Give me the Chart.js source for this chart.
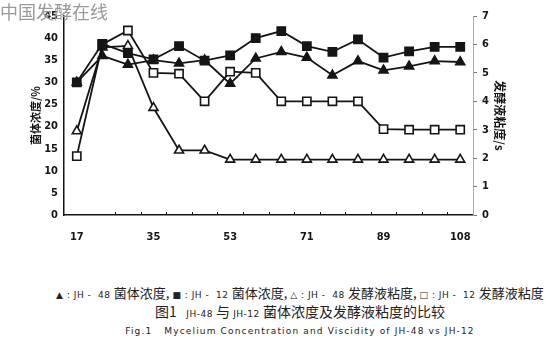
<!DOCTYPE html>
<html>
<head>
<meta charset="utf-8">
<script src="https://cdn.jsdelivr.net/npm/chart.js@4/dist/chart.umd.min.js"></script>
<style>
  html, body { margin: 0; padding: 0; background: #fff; }
  body { width: 554px; height: 349px; position: relative; overflow: hidden; }
  #plot { position: absolute; left: 0; top: 0; }
  .mark { position: absolute; left: 0; top: -2px; font: 18px "Noto Sans CJK SC", sans-serif; color: #9a9a9a; }
  .cap { position: absolute; left: 0; width: 600px; text-align: center; color: #222; white-space: nowrap; font-family: "Noto Sans CJK SC", sans-serif; }
  .s { font-family: "DejaVu Sans", sans-serif; font-size: 9px; letter-spacing: 0.5px; }
  #cap1 { top: 283px; font-size: 13px; }
  #cap2 { top: 301px; font-size: 14px; }
  #cap3 { top: 326px; font: 9px "DejaVu Sans", sans-serif; letter-spacing: 1.15px; }
</style>
</head>
<body>
<canvas id="plot" width="554" height="260"></canvas>
<div class="mark">中国发酵在线</div>
<div class="cap" id="cap1"><span class="s">▲ : JH - &nbsp;48 </span>菌体浓度, <span class="s">■ : JH - &nbsp;12 </span>菌体浓度, <span class="s">△ : JH - &nbsp;48 </span>发酵液粘度, <span class="s">□ : JH - &nbsp;12 </span>发酵液粘度</div>
<div class="cap" id="cap2">图1 &nbsp; <span class="s">JH-48</span> 与 <span class="s">JH-12</span> 菌体浓度及发酵液粘度的比较</div>
<div class="cap" id="cap3">Fig.1 &nbsp; Mycelium Concentration and Viscidity of JH-48 vs JH-12</div>

<script>
// sampling times (h) and the ones that get a label on the x axis
const sampleHours = ['17', '23', '29', '35', '41', '47', '53', '59', '65', '71', '77', '83', '89', '95', '101', '108'];
const xTickLabels = ['17', '35', '53', '71', '89', '108'];

// mycelium concentration, % (left axis)
const jh48Conc = [30, 36, 34, 35, 34.3, 35, 29.7, 35.4, 36.9, 35.6, 31.6, 34.8, 32.7, 33.6, 34.8, 34.6];
const jh12Conc = [30, 38.7, 36.6, 35.2, 38.2, 34.9, 36.1, 40, 41.6, 38.2, 36.9, 39.7, 35.6, 37, 38, 38];

// broth viscosity, s (right axis)
const jh48Visc = [2.95, 5.9, 5.95, 3.77, 2.27, 2.27, 1.95, 1.95, 1.95, 1.95, 1.95, 1.95, 1.95, 1.95, 1.95, 1.95];
const jh12Visc = [2.07, 6.0, 6.49, 5.0, 4.97, 4.0, 5.04, 5.0, 4.0, 4.0, 4.0, 4.0, 3.02, 3.0, 3.0, 3.0];

const INK = '#151515';
const numFont = { family: '"Liberation Sans Narrow", "DejaVu Sans Condensed", sans-serif', size: 11, weight: 'bold' };

function series(data, axis, style, filled, radius, order) {
    return {
        data: data,
        yAxisID: axis,
        borderColor: INK,
        borderWidth: 1.8,
        pointStyle: style,
        pointRadius: radius,
        pointBorderWidth: 1.6,
        pointBorderColor: INK,
        pointBackgroundColor: filled ? INK : '#fff',
        tension: 0,
        fill: false,
        clip: false,
        order: order
    };
}

// small upward ticks between sampling points on the x axis
const minorTicks = {
    id: 'minorTicks',
    afterDraw(chart) {
        const xs = chart.scales.x;
        const c = chart.ctx;
        const y0 = chart.chartArea.bottom;
        c.save();
        c.strokeStyle = INK;
        c.lineWidth = 1;
        for (let i = 1; i < sampleHours.length - 1; i++) {
            const px = Math.round(xs.getPixelForValue(i + 0.5)) + 0.5;
            c.beginPath();
            c.moveTo(px, y0);
            c.lineTo(px, y0 - 3);
            c.stroke();
        }
        c.restore();
    }
};

new Chart(document.getElementById('plot').getContext('2d'), {
    type: 'line',
    data: {
        labels: sampleHours,
        datasets: [
            series(jh48Conc, 'y', 'triangle', true, 5.2, 1),
            series(jh12Conc, 'y', 'rect', true, 5.8, 0),
            series(jh48Visc, 'y1', 'triangle', false, 5.2, 3),
            series(jh12Visc, 'y1', 'rect', false, 5.8, 2)
        ]
    },
    plugins: [minorTicks],
    options: {
        responsive: false,
        animation: false,
        devicePixelRatio: 1,
        layout: { padding: { top: 16, left: 0, right: 0, bottom: 0 } },
        plugins: { legend: { display: false }, tooltip: { enabled: false } },
        scales: {
            x: {
                type: 'category',
                offset: true,
                grid: { drawOnChartArea: false, drawTicks: false },
                border: { color: INK, width: 1.5 },
                ticks: {
                    autoSkip: false,
                    maxRotation: 0,
                    padding: 16,
                    color: INK,
                    font: numFont,
                    callback: (v, i) => xTickLabels.includes(sampleHours[i]) ? sampleHours[i] : ''
                },
                afterFit: s => { s.height = 45; }
            },
            y: {
                position: 'left',
                min: 0,
                max: 45,
                grid: { drawOnChartArea: false, drawTicks: false },
                border: { color: INK, width: 1.5 },
                ticks: { stepSize: 5, padding: 6, color: INK, font: numFont },
                title: {
                    display: true,
                    text: '菌体浓度/%',
                    color: INK,
                    font: { family: '"Noto Sans CJK SC", sans-serif', size: 11, weight: 'bold' },
                    padding: { top: 29, bottom: 0 }
                },
                afterFit: s => { s.width = 64; }
            },
            y1: {
                position: 'right',
                min: 0,
                max: 7,
                grid: { drawOnChartArea: false, tickLength: 4, color: '#777' },
                border: { color: '#aaa', width: 1, dash: [2, 2] },
                ticks: { stepSize: 1, padding: 5, color: INK, font: numFont },
                title: {
                    display: true,
                    text: '发酵液粘度/s',
                    color: INK,
                    font: { family: '"Noto Sans CJK SC", sans-serif', size: 12, weight: 'bold' },
                    padding: { top: 47, bottom: 0 }
                },
                afterFit: s => { s.width = 81; }
            }
        }
    }
});
</script>
</body>
</html>
